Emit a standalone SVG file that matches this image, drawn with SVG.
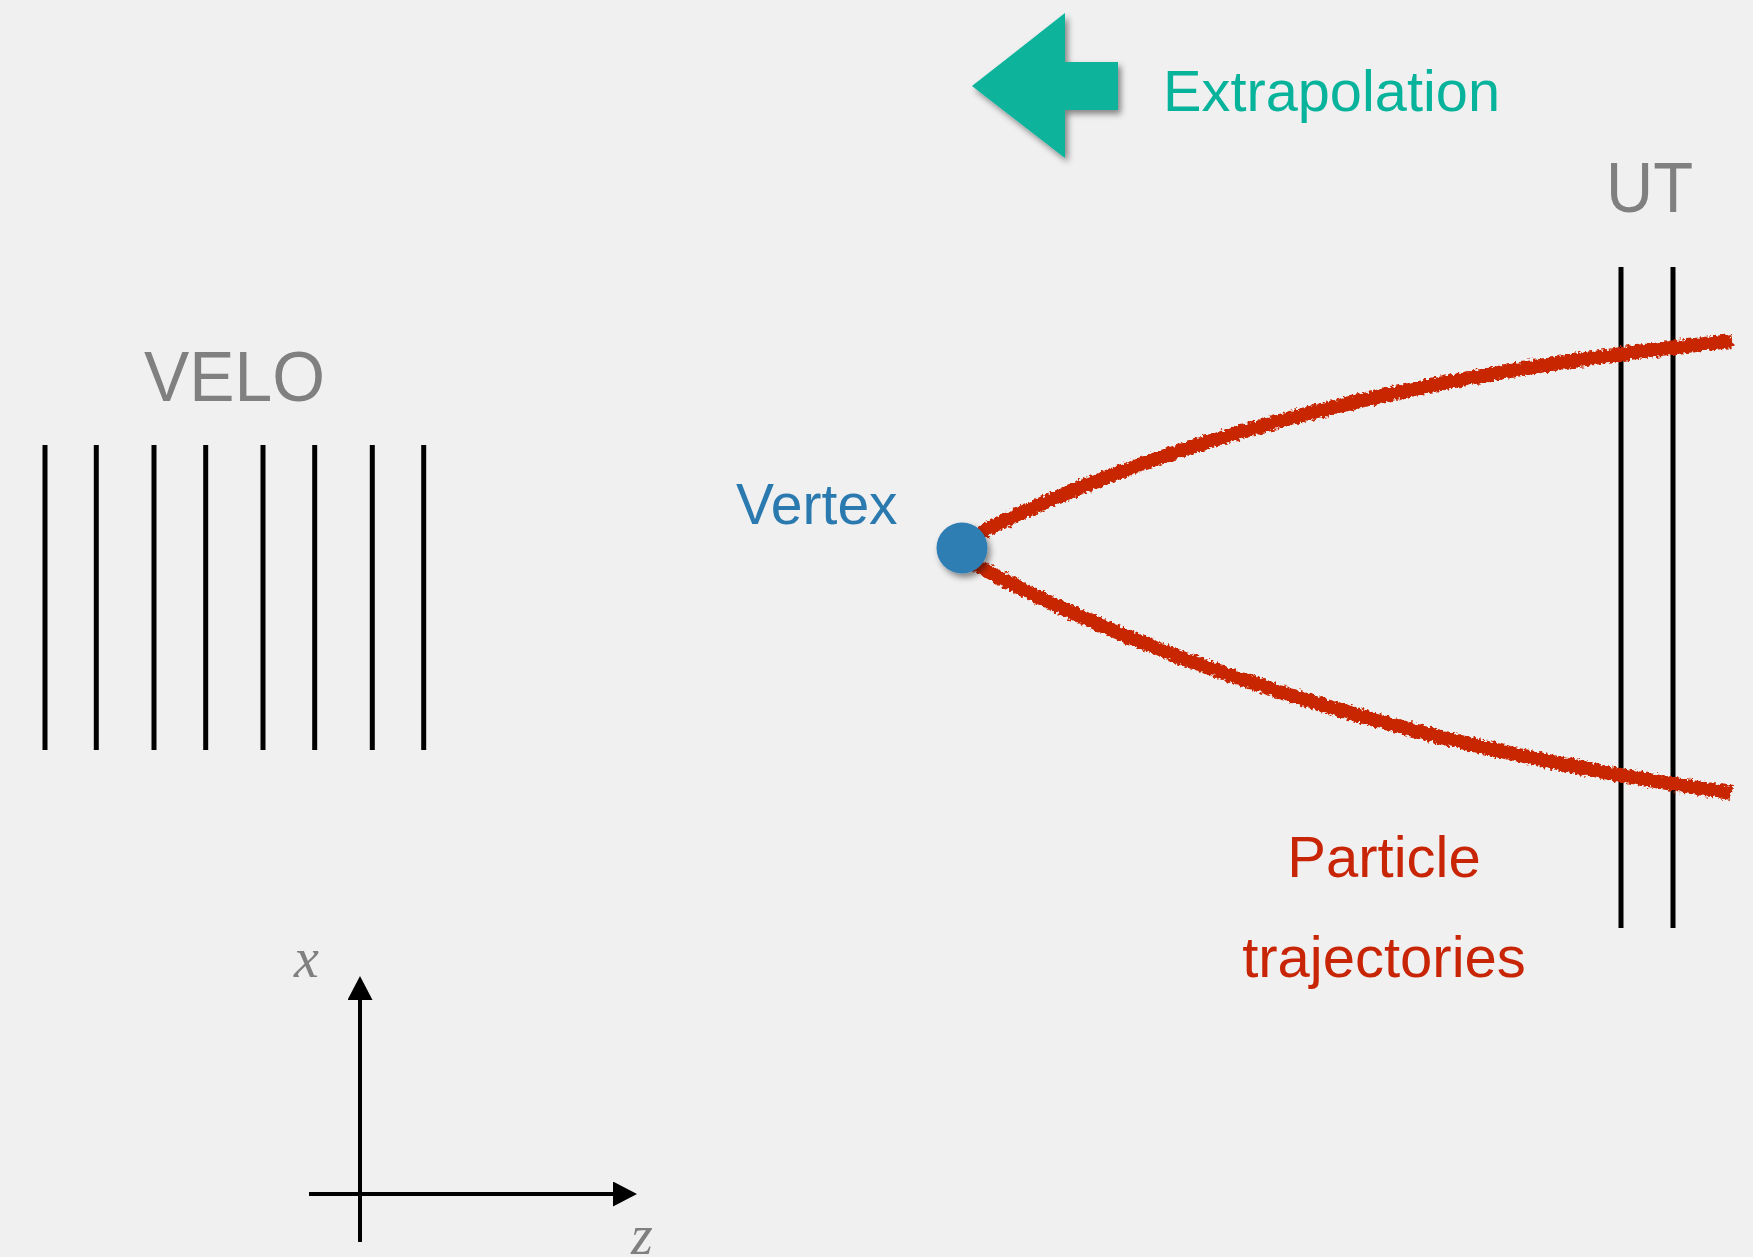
<svg xmlns="http://www.w3.org/2000/svg" width="1753" height="1257" viewBox="0 0 1753 1257">
  <defs>
    <style>
      .lbl { font-family: "Liberation Sans", Arial, sans-serif; }
      .gray { fill: #808080; }
      .det { stroke: #000; stroke-width: 5; fill: none; }
      .axis { stroke: #000; stroke-width: 4; fill: none; }
      .traj { stroke: #C82506; stroke-width: 14; fill: none; stroke-linecap: butt; }
      .ital { font-family: "Liberation Serif", "Times New Roman", serif; font-style: italic; fill: #808080; }
    </style>
    <filter id="shadow" x="-20%" y="-20%" width="150%" height="150%">
      <feDropShadow dx="3" dy="4" stdDeviation="3" flood-color="#000" flood-opacity="0.45"/>
    </filter>
    <filter id="rough" x="-5%" y="-20%" width="110%" height="140%">
      <feTurbulence type="fractalNoise" baseFrequency="0.3" numOctaves="2" seed="3" result="n"/>
      <feDisplacementMap in="SourceGraphic" in2="n" scale="7" xChannelSelector="R" yChannelSelector="G"/>
    </filter>
    <marker id="ah" viewBox="0 0 24 25" refX="0" refY="12.5" markerWidth="24" markerHeight="25" markerUnits="userSpaceOnUse" orient="auto">
      <path d="M0,0 L24,12.5 L0,25 Z" fill="#000"/>
    </marker>
  </defs>
  <rect width="1753" height="1257" fill="#F0F0F0"/>

  <g id="extrapolation">
    <path d="M972,86 L1065,13 L1065,62 L1118,62 L1118,110 L1065,110 L1065,158 Z" fill="#07B39B" filter="url(#shadow)"/>
    <text class="lbl" x="1163" y="111" font-size="58" fill="#07B39B" textLength="337" lengthAdjust="spacingAndGlyphs">Extrapolation</text>
  </g>

  <g id="velo">
    <text class="lbl gray" x="144" y="401" font-size="70" textLength="181" lengthAdjust="spacingAndGlyphs">VELO</text>
    <line class="det" x1="45" y1="445" x2="45" y2="750"/>
    <line class="det" x1="96.3" y1="445" x2="96.3" y2="750"/>
    <line class="det" x1="154" y1="445" x2="154" y2="750"/>
    <line class="det" x1="205.7" y1="445" x2="205.7" y2="750"/>
    <line class="det" x1="263" y1="445" x2="263" y2="750"/>
    <line class="det" x1="314.7" y1="445" x2="314.7" y2="750"/>
    <line class="det" x1="372.3" y1="445" x2="372.3" y2="750"/>
    <line class="det" x1="423.7" y1="445" x2="423.7" y2="750"/>
  </g>

  <g id="ut">
    <text class="lbl gray" x="1606" y="212" font-size="70" textLength="87" lengthAdjust="spacingAndGlyphs">UT</text>
    <line class="det" x1="1621" y1="267" x2="1621" y2="928"/>
    <line class="det" x1="1673" y1="267" x2="1673" y2="928"/>
  </g>

  <g id="connectors">
    <path class="traj" filter="url(#rough)" d="M972,537 C1150,445 1400,375 1732,341"/>
    <path class="traj" filter="url(#rough)" d="M970,562 C1150,660 1400,745 1732,793"/>
  </g>

  <g id="vertex">
    <circle cx="962" cy="548" r="25.5" fill="#2E7DB3" filter="url(#shadow)"/>
    <text class="lbl" x="736" y="524" font-size="57" fill="#2A7AB0">Vertex</text>
  </g>

  <g id="trajectories-label">
    <text class="lbl" x="1384" y="877" font-size="58" fill="#C82506" text-anchor="middle">Particle</text>
    <text class="lbl" x="1384" y="977" font-size="58" fill="#C82506" text-anchor="middle">trajectories</text>
  </g>

  <g id="axes">
    <line class="axis" x1="360" y1="1242" x2="360" y2="1000" marker-end="url(#ah)"/>
    <line class="axis" x1="309" y1="1194" x2="613" y2="1194" marker-end="url(#ah)"/>
    <text class="ital" x="294" y="977" font-size="56">x</text>
    <text class="ital" x="631" y="1254" font-size="56">z</text>
  </g>
</svg>
